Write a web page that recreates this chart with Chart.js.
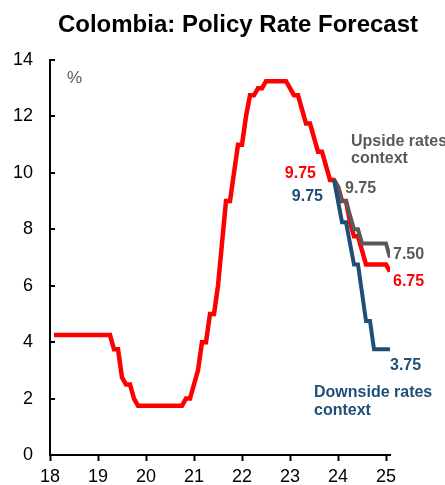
<!DOCTYPE html>
<html>
<head>
<meta charset="utf-8">
<title>Colombia: Policy Rate Forecast</title>
<script src="https://cdn.jsdelivr.net/npm/chart.js@4.4.1/dist/chart.umd.min.js"></script>
<style>
    html, body { margin: 0; padding: 0; background: #fff; }
    #wrap { position: relative; width: 445px; height: 485px; }
</style>
</head>
<body>
<div id="wrap"><canvas id="policyRateChart"></canvas></div>
<script>
// Monthly policy rate, month index counted from the start of '18 (1 = first month shown)
const histStart = 1;
const histRate = [
    4.25, 4.25, 4.25, 4.25, 4.25, 4.25, 4.25, 4.25, 4.25, 4.25, 4.25, 4.25, 4.25, 4.25, 4.25,
    3.75, 3.75, 2.75, 2.5, 2.5, 2.0,
    1.75, 1.75, 1.75, 1.75, 1.75, 1.75, 1.75, 1.75, 1.75, 1.75, 1.75, 1.75,
    2.0, 2.0, 2.5, 3.0, 4.0, 4.0, 5.0, 5.0, 6.0, 7.5, 9.0, 9.0, 10.0, 11.0, 11.0, 12.0,
    12.75, 12.75, 13.0, 13.0,
    13.25, 13.25, 13.25, 13.25, 13.25, 13.25,
    13.0, 12.75, 12.75, 12.25, 11.75, 11.75, 11.25, 10.75, 10.75, 10.25, 9.75, 9.75
];

// Forecast paths (base continues the history line; scenarios start at the last actual)
const baseStart = 72;
const baseRate = [9.5, 9.0, 9.0, 8.25, 7.75, 7.75, 7.25, 6.75, 6.75, 6.75, 6.75, 6.75, 6.75, 6.5];
const scenarioStart = 71;
const upsideRate = [9.75, 9.5, 9.0, 9.0, 8.5, 8.0, 8.0, 7.5, 7.5, 7.5, 7.5, 7.5, 7.5, 7.5, 7.0];
const downsideRate = [9.75, 9.0, 8.25, 8.25, 7.5, 6.75, 6.75, 5.75, 4.75, 4.75, 3.75, 3.75, 3.75, 3.75, 3.75];

// Axis setup
const yearTicks = [18, 19, 20, 21, 22, 23, 24, 25];
const rateTicks = [0, 2, 4, 6, 8, 10, 12, 14];
const lastMonth = 85;

const RED = '#FF0000';
const BLUE = '#1F4E79';
const GREY = '#595959';
const FONT = '"Liberation Sans", Arial, sans-serif';

function toPoints(values, startMonth) {
    return values.map((v, i) => ({ x: yearTicks[0] + (startMonth + i) / 12, y: v }));
}

const basePoints = toPoints(histRate, histStart).concat(toPoints(baseRate, baseStart));
const upsidePoints = toPoints(upsideRate, scenarioStart);
const downsidePoints = toPoints(downsideRate, scenarioStart);

/**
 * Inward tick marks on the rate axis plus the text annotations
 */
const rateLabels = {
    id: 'rateLabels',
    afterDraw(chart) {
        const { ctx, chartArea, scales: { x, y } } = chart;
        ctx.save();

        // short tick marks pointing into the plot
        ctx.strokeStyle = '#000';
        ctx.lineWidth = 2;
        rateTicks.forEach(function(v) {
            const py = Math.round(y.getPixelForValue(v));
            ctx.beginPath();
            ctx.moveTo(chartArea.left, py);
            ctx.lineTo(chartArea.left + 5, py);
            ctx.stroke();
        });

        // title
        ctx.fillStyle = '#000';
        ctx.font = 'bold 24px ' + FONT;
        ctx.textAlign = 'center';
        ctx.textBaseline = 'middle';
        ctx.fillText('Colombia: Policy Rate Forecast', 238, 25);

        // unit
        ctx.fillStyle = GREY;
        ctx.font = '17px ' + FONT;
        ctx.textAlign = 'left';
        ctx.fillText('%', 67, 78);

        function px(points, idx) {
            const p = points[idx < 0 ? points.length + idx : idx];
            return { x: x.getPixelForValue(p.x), y: y.getPixelForValue(p.y) };
        }

        ctx.font = 'bold 16px ' + FONT;

        // value where the forecasts start
        const lastActual = px(basePoints, histRate.length - 2);
        ctx.textAlign = 'right';
        ctx.fillStyle = RED;
        ctx.fillText(histRate[histRate.length - 2].toFixed(2), lastActual.x - 14, lastActual.y - 6);

        const downStart = px(downsidePoints, 0);
        ctx.fillStyle = BLUE;
        ctx.fillText(downsideRate[0].toFixed(2), downStart.x - 11, downStart.y + 17);

        const upStart = px(upsidePoints, 0);
        ctx.textAlign = 'left';
        ctx.fillStyle = GREY;
        ctx.fillText(upsideRate[0].toFixed(2), upStart.x + 11, upStart.y + 9);

        // values at the end of each path
        const upEnd = px(upsidePoints, -2);
        ctx.fillText(upsideRate[upsideRate.length - 2].toFixed(2), upEnd.x + 7, upEnd.y + 11);

        const baseEnd = px(basePoints, -2);
        ctx.fillStyle = RED;
        ctx.fillText(baseRate[baseRate.length - 2].toFixed(2), baseEnd.x + 7, baseEnd.y + 17);

        const downEnd = px(downsidePoints, -1);
        ctx.fillStyle = BLUE;
        ctx.fillText(downsideRate[downsideRate.length - 1].toFixed(2), downEnd.x, downEnd.y + 16);

        // scenario names
        ctx.fillStyle = GREY;
        ctx.fillText('Upside rates', 351, 142);
        ctx.fillText('context', 351, 159);
        ctx.fillStyle = BLUE;
        ctx.fillText('Downside rates', 314, 393);
        ctx.fillText('context', 314, 411);

        ctx.restore();
    }
};

new Chart(document.getElementById('policyRateChart'), {
    type: 'line',
    data: {
        datasets: [
            {
                label: 'Downside',
                data: downsidePoints,
                borderColor: BLUE,
                borderWidth: 4,
                pointRadius: 0,
                tension: 0
            },
            {
                label: 'Upside',
                data: upsidePoints,
                borderColor: GREY,
                borderWidth: 4,
                pointRadius: 0,
                tension: 0
            },
            {
                label: 'Policy rate',
                data: basePoints,
                borderColor: RED,
                borderWidth: 4.5,
                pointRadius: 0,
                tension: 0
            }
        ]
    },
    options: {
        responsive: true,
        maintainAspectRatio: false,
        animation: false,
        layout: {
            padding: { top: 60, right: 55, left: 0, bottom: 0 }
        },
        plugins: {
            legend: { display: false },
            tooltip: { enabled: false },
            title: { display: false }
        },
        scales: {
            x: {
                type: 'linear',
                min: yearTicks[0],
                max: yearTicks[0] + lastMonth / 12,
                afterFit: function(scale) { scale.height = 30; },
                afterBuildTicks: function(scale) {
                    scale.ticks = yearTicks.map(v => ({ value: v }));
                },
                border: { display: true, color: '#000', width: 2 },
                grid: {
                    drawOnChartArea: false,
                    drawTicks: true,
                    tickLength: 6,
                    tickWidth: 2,
                    color: '#000'
                },
                ticks: {
                    autoSkip: false,
                    maxRotation: 0,
                    padding: 5,
                    color: '#000',
                    font: { family: FONT, size: 18 },
                    callback: function(value) { return String(value); }
                }
            },
            y: {
                min: 0,
                max: 14,
                afterFit: function(scale) { scale.width = 50; },
                afterBuildTicks: function(scale) {
                    scale.ticks = rateTicks.map(v => ({ value: v }));
                },
                border: { display: true, color: '#000', width: 2 },
                grid: {
                    drawOnChartArea: false,
                    drawTicks: false
                },
                ticks: {
                    padding: 17,
                    color: '#000',
                    font: { family: FONT, size: 18 }
                }
            }
        }
    },
    plugins: [rateLabels]
});
</script>
</body>
</html>
